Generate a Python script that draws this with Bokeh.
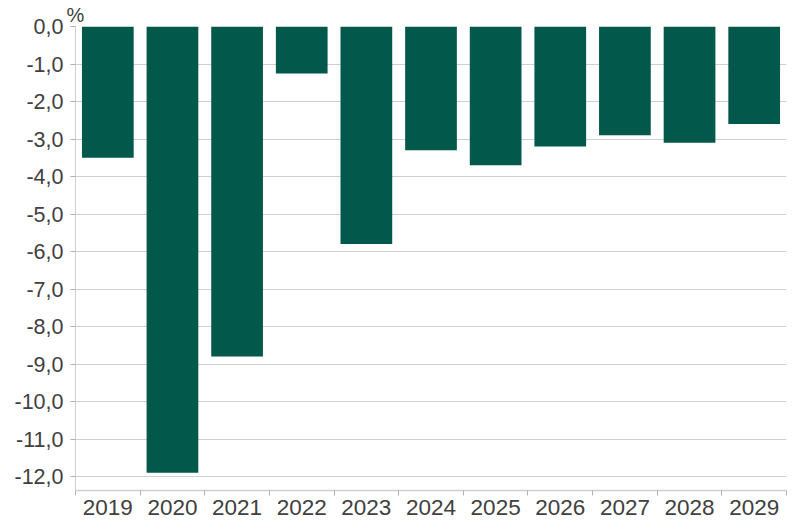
from bokeh.plotting import figure
from bokeh.models import Range1d, FixedTicker, ColumnDataSource, Title
from bokeh.embed import file_html
from bokeh.resources import INLINE

years = ["2019", "2020", "2021", "2022", "2023", "2024", "2025", "2026", "2027", "2028", "2029"]
values = [-3.5, -11.9, -8.8, -1.25, -5.8, -3.3, -3.7, -3.2, -2.9, -3.1, -2.6]
y_ticks = [0, -1, -2, -3, -4, -5, -6, -7, -8, -9, -10, -11, -12]
y_tick_labels = ["0,0", "-1,0", "-2,0", "-3,0", "-4,0", "-5,0", "-6,0", "-7,0", "-8,0", "-9,0", "-10,0", "-11,0", "-12,0"]

TEXT = "#404040"
GRID = "#cfcfcf"
FONT = "Liberation Sans"

n = len(years)
centers = [i + 0.5 for i in range(n)]
src = ColumnDataSource(dict(x=centers, top=[0] * n, bottom=values, year=years))

p = figure(width=799, height=521, output_backend="svg", toolbar_location=None,
           x_range=Range1d(0, n), y_range=Range1d(-12.373, 0),
           min_border_left=75, min_border_right=13, min_border_top=26, min_border_bottom=31)
p.outline_line_color = None
p.background_fill_color = "white"
p.border_fill_color = "white"

t = Title(text="%", align="left", offset=-9, standoff=2, text_font=FONT,
          text_font_size="20px", text_font_style="normal", text_color=TEXT)
p.add_layout(t, "above")

p.vbar(x="x", top="top", bottom="bottom", width=0.8, source=src,
       fill_color="#02584B", line_color=None)

# x axis
xa = p.xaxis[0]
xa.ticker = FixedTicker(ticks=centers, minor_ticks=list(range(n + 1)))
xa.major_label_overrides = {c: y for c, y in zip(centers, years)}
xa.major_tick_line_color = None
xa.major_tick_out = 0
xa.major_tick_in = 0
xa.minor_tick_line_color = "#b0b0b0"
xa.minor_tick_out = 5
xa.minor_tick_in = 0
xa.axis_line_color = GRID
xa.axis_line_width = 1.5
xa.major_label_standoff = 4
xa.major_label_text_font = FONT
xa.major_label_text_font_size = "22.5px"
xa.major_label_text_color = TEXT

# y axis
ya = p.yaxis[0]
ya.ticker = FixedTicker(ticks=y_ticks)
ya.major_label_overrides = {t: l for t, l in zip(y_ticks, y_tick_labels)}
ya.minor_tick_line_color = None
ya.major_tick_line_color = "#b0b0b0"
ya.major_tick_out = 5
ya.major_tick_in = 0
ya.axis_line_color = GRID
ya.major_label_standoff = 7
ya.major_label_text_font = FONT
ya.major_label_text_font_size = "21.5px"
ya.major_label_text_color = TEXT

p.xgrid.grid_line_color = None
p.ygrid.grid_line_color = GRID
p.ygrid.grid_line_width = 1
p.ygrid.ticker = FixedTicker(ticks=y_ticks)

open("out.html", "w").write(file_html(p, INLINE))
